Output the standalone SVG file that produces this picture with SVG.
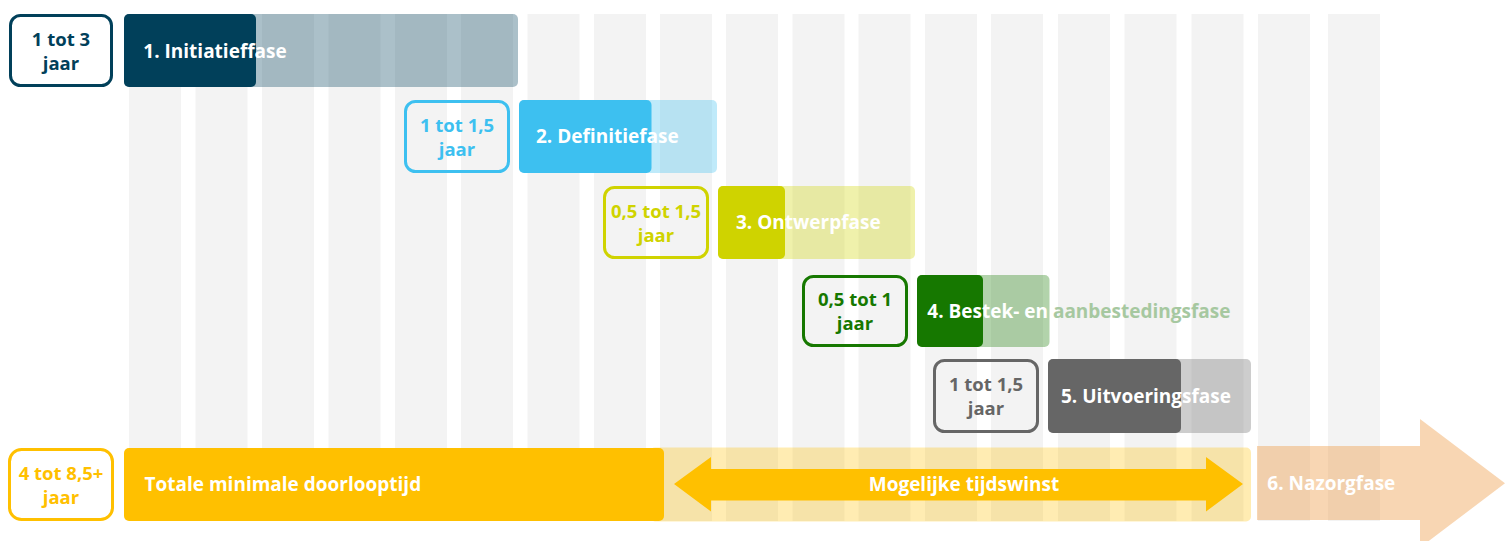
<svg xmlns="http://www.w3.org/2000/svg" width="1510" height="541" viewBox="0 0 1510 541">
<defs>
<style>
.stripe{fill:#f3f3f3}
.box{fill:none;stroke-width:3}
.bt{font-family:"Open Sans","Liberation Sans",sans-serif;font-weight:700;font-size:18.5px;text-anchor:middle}
.pt{font-family:"Open Sans","Liberation Sans",sans-serif;font-weight:700;font-size:19px;fill:#ffffff}
.lite{opacity:0.33}
</style>
<linearGradient id="p4text" gradientUnits="userSpaceOnUse" x1="917" y1="0" x2="1240" y2="0">
<stop offset="0" stop-color="#ffffff"/>
<stop offset="0.41" stop-color="#ffffff"/>
<stop offset="0.41" stop-color="#a6c8a0"/>
<stop offset="1" stop-color="#a6c8a0"/>
</linearGradient>
</defs>
<rect width="1510" height="541" fill="#ffffff"/>
<g id="stripes">
<rect class="stripe" x="129" y="14" width="52" height="507"/>
<rect class="stripe" x="195.5" y="14" width="52" height="507"/>
<rect class="stripe" x="262" y="14" width="52" height="507"/>
<rect class="stripe" x="328.5" y="14" width="52" height="507"/>
<rect class="stripe" x="395" y="14" width="52" height="507"/>
<rect class="stripe" x="461" y="14" width="52" height="507"/>
<rect class="stripe" x="527.5" y="14" width="52" height="507"/>
<rect class="stripe" x="594" y="14" width="52" height="507"/>
<rect class="stripe" x="660" y="14" width="52" height="507"/>
<rect class="stripe" x="726" y="14" width="52" height="507"/>
<rect class="stripe" x="792.5" y="14" width="52" height="507"/>
<rect class="stripe" x="858.5" y="14" width="52" height="507"/>
<rect class="stripe" x="925" y="14" width="52" height="507"/>
<rect class="stripe" x="991" y="14" width="52" height="507"/>
<rect class="stripe" x="1058" y="14" width="52" height="507"/>
<rect class="stripe" x="1124.5" y="14" width="52" height="507"/>
<rect class="stripe" x="1191.5" y="14" width="52" height="507"/>
<rect class="stripe" x="1258" y="14" width="52" height="507"/>
<rect class="stripe" x="1328" y="14" width="52" height="507"/>
</g>
<g id="phase-1">
<rect x="10.5" y="15.5" width="101" height="70" rx="10" class="box" stroke="#01405a"/>
<text class="bt" fill="#01405a" x="61" y="45.5">1 tot 3</text>
<text class="bt" fill="#01405a" x="61" y="69.5">jaar</text>
<rect x="124" y="14" width="394" height="73" rx="5" fill="#01405a" class="lite"/>
<rect x="124" y="14" width="132" height="73" rx="5" fill="#01405a"/>
<text class="pt" x="143.3" y="57.5">1. Initiatieffase</text>
</g>
<g id="phase-2">
<rect x="405.5" y="101.5" width="103" height="70" rx="10" class="box" stroke="#3dc0f0"/>
<text class="bt" fill="#3dc0f0" x="457" y="131.5">1 tot 1,5</text>
<text class="bt" fill="#3dc0f0" x="457" y="155.5">jaar</text>
<rect x="519" y="100" width="198" height="73" rx="5" fill="#3dc0f0" class="lite"/>
<rect x="519" y="100" width="132.5" height="73" rx="5" fill="#3dc0f0"/>
<text class="pt" x="536" y="143.3">2. Definitiefase</text>
</g>
<g id="phase-3">
<rect x="604.5" y="187.5" width="103" height="70" rx="10" class="box" stroke="#cfd300"/>
<text class="bt" fill="#cfd300" x="656" y="217.5">0,5 tot 1,5</text>
<text class="bt" fill="#cfd300" x="656" y="241.5">jaar</text>
<rect x="718" y="186" width="197" height="73" rx="5" fill="#cfd300" class="lite"/>
<rect x="718" y="186" width="67" height="73" rx="5" fill="#cfd300"/>
<text class="pt" x="736" y="229.3">3. Ontwerpfase</text>
</g>
<g id="phase-4">
<rect x="803.5" y="276.5" width="103" height="69" rx="10" class="box" stroke="#167800"/>
<text class="bt" fill="#167800" x="855" y="306">0,5 tot 1</text>
<text class="bt" fill="#167800" x="855" y="330">jaar</text>
<rect x="917" y="275" width="132.5" height="72" rx="5" fill="#167800" class="lite"/>
<rect x="917" y="275" width="66" height="72" rx="5" fill="#167800"/>
<text class="pt" x="927.3" y="317.8" fill="url(#p4text)" style="fill:url(#p4text)">4. Bestek- en aanbestedingsfase</text>
</g>
<g id="phase-5">
<rect x="934.5" y="360.5" width="103" height="71" rx="10" class="box" stroke="#666666"/>
<text class="bt" fill="#666666" x="986" y="391">1 tot 1,5</text>
<text class="bt" fill="#666666" x="986" y="415">jaar</text>
<rect x="1048" y="359" width="203" height="74" rx="5" fill="#666666" class="lite"/>
<rect x="1048" y="359" width="133" height="74" rx="5" fill="#666666"/>
<text class="pt" x="1061" y="402.8">5. Uitvoeringsfase</text>
</g>
<g id="total">
<rect x="9.5" y="449.5" width="103" height="70" rx="12" class="box" stroke="#ffc000"/>
<text class="bt" fill="#ffc000" x="61" y="479.5">4 tot 8,5+</text>
<text class="bt" fill="#ffc000" x="61" y="503.5">jaar</text>
<rect x="650" y="447.5" width="601" height="74" rx="5" fill="#ffc000" opacity="0.3"/>
<rect x="124" y="448" width="540" height="73" rx="5" fill="#ffc000"/>
<text class="pt" x="144.5" y="491.3">Totale minimale doorlooptijd</text>
</g>
<g id="connectors">
<polygon points="674,484 711,457 711,469 1206,469 1206,457 1243,484 1206,511.5 1206,500.5 711,500.5 711,511.5" fill="#ffc000"/>
</g>
<g id="gain">
<text class="pt" x="964" y="491" text-anchor="middle">Mogelijke tijdswinst</text>
</g>
<g id="phase-6">
<polygon points="1257,446 1420,446 1420,419 1505,483.3 1420,547.6 1420,520 1257,520" fill="#ee9941" opacity="0.4"/>
<text class="pt" x="1267.3" y="490">6. Nazorgfase</text>
</g>
</svg>
